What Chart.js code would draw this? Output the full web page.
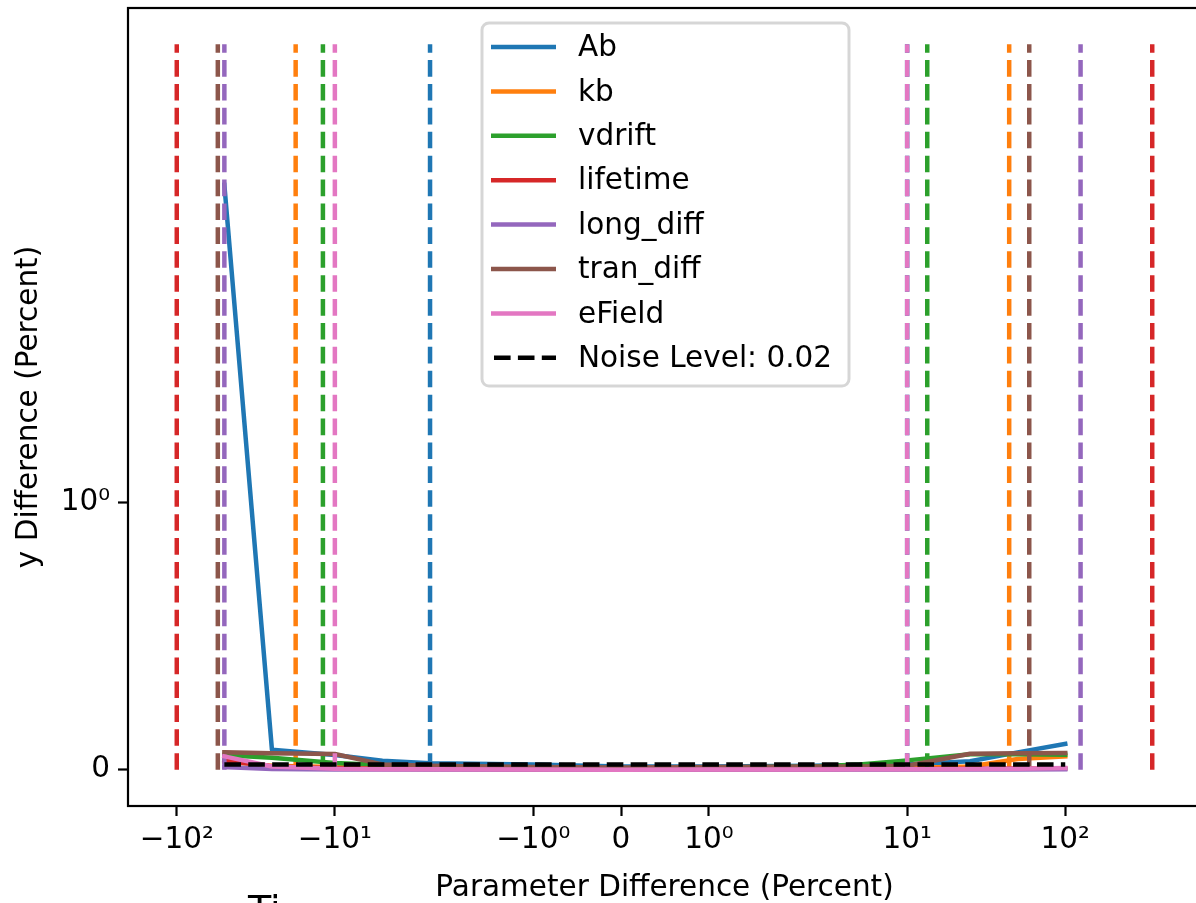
<!DOCTYPE html>
<html>
<head>
<meta charset="utf-8">
<script src="https://cdn.jsdelivr.net/npm/chart.js@4.4.1/dist/chart.umd.min.js"></script>
<style>
html,body{margin:0;padding:0;background:#fff;overflow:hidden;width:1196px;height:903px;}
canvas{display:block;}
</style>
</head>
<body>
<canvas id="c" width="1210" height="903"></canvas>
<script>
// ---------------- data ----------------
const xValues = [-50, -25, -10, -5, -2.5, -1, 0, 1, 2.5, 5, 10, 25, 50, 100];
const seriesNames = ['Ab', 'kb', 'vdrift', 'lifetime', 'long_diff', 'tran_diff', 'eField'];
const seriesColors = ['#1f77b4', '#ff7f0e', '#2ca02c', '#d62728', '#9467bd', '#8c564b', '#e377c2'];
const abDiff       = [2.55, 0.075, 0.055, 0.034, 0.024, 0.020, 0.012, 0.012, 0.015, 0.018, 0.020, 0.032, 0.065, 0.097];
const kbDiff       = [0.030, 0.015, 0.010, 0.007, 0.005, 0.003, 0.002, 0.003, 0.004, 0.005, 0.006, 0.012, 0.040, 0.050];
const vdriftDiff   = [0.055, 0.045, 0.025, 0.018, 0.012, 0.008, 0.005, 0.008, 0.012, 0.020, 0.035, 0.058, 0.058, 0.056];
const lifetimeDiff = [0.035, 0.012, 0.006, 0.004, 0.003, 0.002, 0.001, 0.002, 0.002, 0.003, 0.003, 0.004, 0.005, 0.005];
const longDiffDiff = [0.010, 0.003, 0.001, 0.001, 0.001, 0.001, 0.000, 0.001, 0.001, 0.001, 0.001, 0.001, 0.001, 0.002];
const tranDiffDiff = [0.065, 0.062, 0.059, 0.020, 0.015, 0.010, 0.008, 0.010, 0.012, 0.012, 0.015, 0.060, 0.062, 0.063];
const eFieldDiff   = [0.050, 0.012, 0.004, 0.002, 0.002, 0.001, 0.000, 0.001, 0.001, 0.002, 0.002, 0.003, 0.004, 0.006];
const seriesValues = [abDiff, kbDiff, vdriftDiff, lifetimeDiff, longDiffDiff, tranDiffDiff, eFieldDiff];
// parameter range bounds (vertical dashed lines), percent
const lowerBounds = [-2.5, -17.7, -11.9, -100, -50, -55, -10];
const upperBounds = [10, 44.2, 13.4, 355, 125, 59.2, 10];
const boundLineTop = 5;
const noiseLevel = 0.02;
const xTickValues = [-100, -10, -1, 0, 1, 10, 100];
const xTickLabels = ['\u221210\u00b2', '\u221210\u00b9', '\u221210\u2070', '0', '10\u2070', '10\u00b9', '10\u00b2'];
const yTickValues = [0, 1];
const yTickLabels = ['0', '10\u2070'];

// ---------------- symlog scale ----------------
const LS_ADJ = 1 / (1 - 1 / 10);
function symT(v, L) { const a = Math.abs(v); if (a <= L) return v * LS_ADJ; return Math.sign(v) * L * (LS_ADJ + Math.log10(a / L)); }
function symInv(t, L) { const a = Math.abs(t); if (a <= L * LS_ADJ) return t / LS_ADJ; return Math.sign(t) * L * Math.pow(10, a / L - LS_ADJ); }

class SymlogScale extends Chart.Scale {
  parse(raw) { if (raw === null || raw === undefined) return null; const v = +raw; return isFinite(v) ? v : null; }
  determineDataLimits() {
    const {min, max} = this.getMinMax(true);
    const L = this.options.linthresh, m = this.options.marginFrac || 0;
    const t0 = symT(min, L), t1 = symT(max, L), d = (t1 - t0) * m;
    this.min = symInv(t0 - d, L);
    this.max = symInv(t1 + d, L);
  }
  buildTicks() {
    return (this.options.tickValues || []).filter(v => v >= this.min && v <= this.max).map(v => ({value: v}));
  }
  configure() {
    super.configure();
    const L = this.options.linthresh;
    this._t0 = symT(this.min, L); this._t1 = symT(this.max, L);
  }
  getPixelForValue(v) {
    const L = this.options.linthresh;
    return this.getPixelForDecimal((symT(v, L) - this._t0) / (this._t1 - this._t0));
  }
  getValueForPixel(p) {
    const L = this.options.linthresh;
    return symInv(this._t0 + this.getDecimalForPixel(p) * (this._t1 - this._t0), L);
  }
  getPixelForTick(i) { return this.getPixelForValue(this.ticks[i].value); }
  getLabelForValue(v) { return String(v); }
}
SymlogScale.id = 'symlog';
SymlogScale.defaults = {};
Chart.register(SymlogScale);

// ---------------- datasets ----------------
const FONT = 'DejaVu Sans';
const FS = 29.5;
const LW = 4.5;
const DASH = [16.6, 7.3];
const datasets = [];
seriesNames.forEach((name, i) => {
  datasets.push({
    label: name, legendShow: true,
    data: xValues.map((x, k) => ({x: x, y: seriesValues[i][k]})),
    borderColor: seriesColors[i], backgroundColor: seriesColors[i],
    borderWidth: LW, pointRadius: 0, tension: 0, fill: false,
    borderCapStyle: 'square', borderJoinStyle: 'round'
  });
  [lowerBounds[i], upperBounds[i]].forEach(b => {
    datasets.push({
      label: name + ' bound', legendShow: false,
      data: [{x: b, y: 0}, {x: b, y: boundLineTop}],
      borderColor: seriesColors[i], borderWidth: LW, borderDash: DASH,
      pointRadius: 0, fill: false, borderCapStyle: 'butt'
    });
  });
});
datasets.push({
  label: 'Noise Level: ' + noiseLevel, legendShow: true, isDashed: true,
  data: [{x: xValues[0], y: noiseLevel}, {x: xValues[xValues.length - 1], y: noiseLevel}],
  borderColor: '#000000', backgroundColor: '#000000', borderWidth: LW, borderDash: DASH,
  pointRadius: 0, fill: false, borderCapStyle: 'butt'
});
datasets.forEach((d, i) => { d.order = datasets.length - i; });

// ---------------- plugins ----------------
const framePlugin = {
  id: 'frame',
  afterDraw(chart) {
    const {ctx, chartArea: a} = chart;
    ctx.save();
    ctx.strokeStyle = '#000'; ctx.lineWidth = 2.2;
    ctx.strokeRect(a.left, a.top, a.right - a.left, a.bottom - a.top);
    ctx.restore();
  }
};
const legendPlugin = {
  id: 'mplLegend',
  afterDraw(chart) {
    const ctx = chart.ctx;
    const box = {x: 482, y: 23, w: 367, h: 363, r: 7};
    ctx.save();
    ctx.beginPath();
    ctx.roundRect(box.x, box.y, box.w, box.h, box.r);
    ctx.fillStyle = 'rgba(255,255,255,0.8)'; ctx.fill();
    ctx.lineWidth = 3; ctx.strokeStyle = 'rgba(204,204,204,0.8)'; ctx.stroke();
    const items = chart.data.datasets.filter(d => d.legendShow);
    ctx.font = FS + 'px "' + FONT + '"';
    ctx.textBaseline = 'middle';
    ctx.fillStyle = '#000';
    items.forEach((d, i) => {
      const y = 47 + i * 44.4;
      ctx.beginPath();
      ctx.strokeStyle = d.borderColor; ctx.lineWidth = LW;
      if (d.isDashed) { ctx.setLineDash(DASH); ctx.lineCap = 'butt'; ctx.moveTo(494, y); ctx.lineTo(556, y); }
      else { ctx.setLineDash([]); ctx.lineCap = 'butt'; ctx.moveTo(491, y); ctx.lineTo(556, y); }
      ctx.stroke();
      ctx.setLineDash([]);
      ctx.fillStyle = '#000';
      ctx.fillText(d.label, 578, y + 1.5);
    });
    // partially visible text at the bottom edge
    ctx.font = '38px "' + FONT + '"';
    ctx.textBaseline = 'top';
    ctx.fillText('Ti', 248, 893);
    ctx.restore();
  }
};

new Chart(document.getElementById('c'), {
  type: 'line',
  data: {datasets: datasets},
  options: {
    responsive: false, animation: false, devicePixelRatio: 1,
    layout: {padding: {left: 0, top: 8, right: 9, bottom: 0}},
    plugins: {legend: {display: false}, tooltip: {enabled: false}},
    scales: {
      x: {
        type: 'symlog', linthresh: 2, marginFrac: 0.05, tickValues: xTickValues,
        afterFit(s) { s.height = 97; s.paddingLeft = 0; s.paddingRight = 0; },
        grid: {display: true, drawOnChartArea: false, drawTicks: true, tickLength: 10, tickWidth: 2.2, tickColor: '#000'},
        border: {display: false},
        ticks: {
          autoSkip: false, maxRotation: 0, minRotation: 0, padding: 7, color: '#000',
          font: {family: FONT, size: FS},
          callback: (v, i) => xTickLabels[xTickValues.indexOf(v)]
        },
        title: {display: true, text: 'Parameter Difference (Percent)', color: '#000',
          font: {family: FONT, size: FS, lineHeight: 1.0}, padding: {top: 0, bottom: 0}}
      },
      y: {
        type: 'symlog', linthresh: 2, marginFrac: 0.05, tickValues: yTickValues,
        afterFit(s) { s.width = 128; s.paddingTop = 0; s.paddingBottom = 0; },
        grid: {display: true, drawOnChartArea: false, drawTicks: true, tickLength: 10, tickWidth: 2.2, tickColor: '#000'},
        border: {display: false},
        ticks: {
          autoSkip: false, padding: 8, color: '#000',
          font: {family: FONT, size: FS},
          callback: (v, i) => yTickLabels[yTickValues.indexOf(v)]
        },
        title: {display: true, text: 'y Difference (Percent)', color: '#000',
          font: {family: FONT, size: FS, lineHeight: 1.2}, padding: {top: 12, bottom: 0}}
      }
    }
  },
  plugins: [framePlugin, legendPlugin]
});
</script>
</body>
</html>
